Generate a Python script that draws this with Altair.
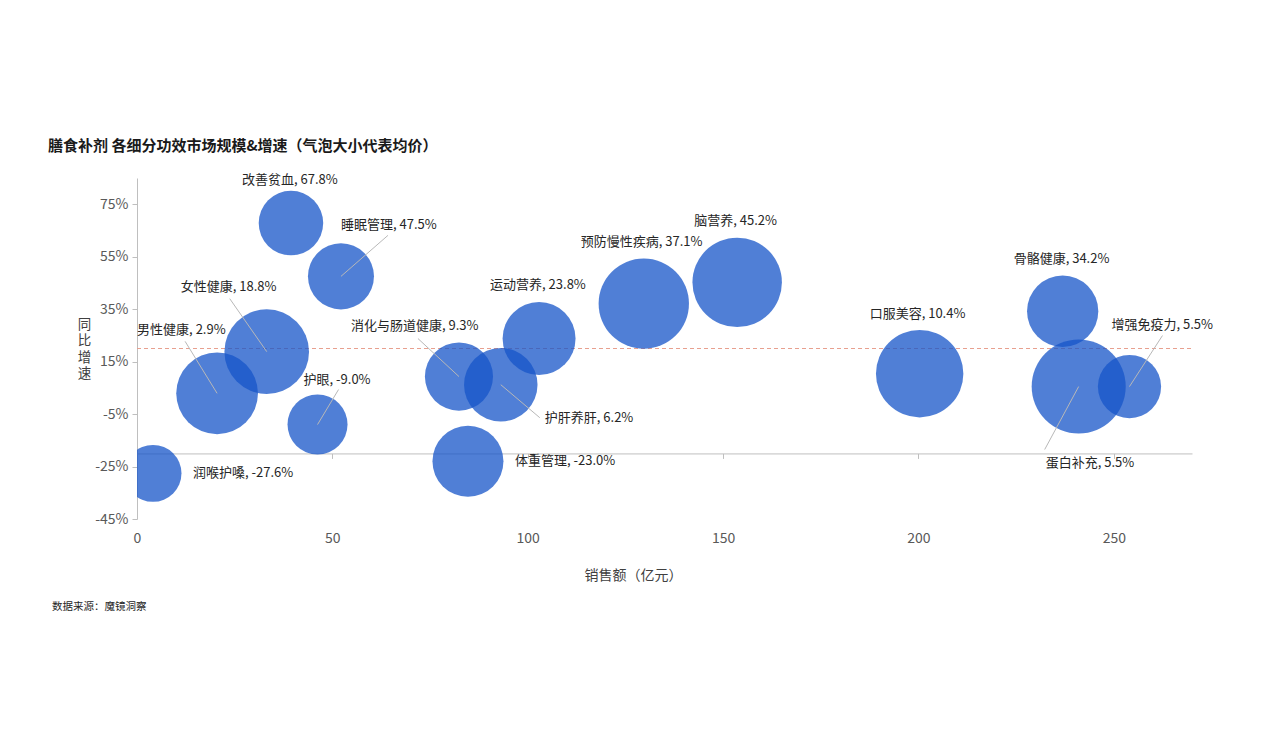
import altair as alt
import pandas as pd

# Segment data: sales (亿元), year-on-year growth (%), average-price index (bubble area)
categories = ["润喉护嗓", "男性健康", "女性健康", "改善贫血", "睡眠管理", "护眼",
              "消化与肠道健康", "护肝养肝", "运动营养", "体重管理", "预防慢性疾病",
              "脑营养", "口服美容", "骨骼健康", "增强免疫力", "蛋白补充"]
sales = [4.1, 20.5, 33.2, 39.4, 52.2, 46.2, 82.4, 93.1, 102.9, 84.7, 129.7,
         153.6, 200.3, 236.9, 254.0, 241.0]
growth = [-27.6, 2.9, 18.8, 67.8, 47.5, -9.0, 9.3, 6.2, 23.8, -23.0, 37.1,
          45.2, 10.4, 34.2, 5.5, 5.5]
avg_price = [81, 167, 179, 104, 109, 90, 116, 135, 133, 126, 204, 200, 191,
             127, 100, 221]
reference_growth = [20]
x_axis_crossing = -20

x_ticks = [0, 50, 100, 150, 200, 250]
y_ticks = [-45, -25, -5, 15, 35, 55, 75]

# Label placement (pixel offsets from bubble centre) and leader-line ends
label_dx = [40, -80, -86, -49, 0, -14, -108, 44, -49, 47, -63, -43, -50, -49, -18, -33]
label_dy = [0, -63, -65, -43, -51, -45, -51, 33, -54, 0, -62, -61, -60, -52, -62, 76]
lead_dx = [None, -32, -37, None, 47, 21, -41, 39, None, None, None, None, None, None, 33, -34]
lead_dy = [None, -52, -53, None, -41, -35, -38, 33, None, None, None, None, None, None, -51, 63]

W, H = 1055, 341
X_DOM, Y_DOM = [0, 270], [-45, 85]
kx = W / (X_DOM[1] - X_DOM[0])
ky = H / (Y_DOM[1] - Y_DOM[0])

FONT = "Noto Sans CJK SC"

df = pd.DataFrame({
    "name": categories, "sales": sales, "growth": growth, "price": avg_price,
})
df["label"] = [f"{n}, {g:.1f}%" for n, g in zip(categories, growth)]
df["lx"] = [s + d / kx for s, d in zip(sales, label_dx)]
df["ly"] = [g - d / ky for g, d in zip(growth, label_dy)]

lead = df.copy()
lead["ex"] = [s + d / kx if d is not None else None for s, d in zip(sales, lead_dx)]
lead["ey"] = [g - d / ky if d is not None else None for g, d in zip(growth, lead_dy)]
lead = lead.dropna(subset=["ex"])

xs = alt.Scale(domain=X_DOM, nice=False, zero=False)
ys = alt.Scale(domain=Y_DOM, nice=False, zero=False)

# The horizontal axis line crosses the y axis at -20%, labels stay at the bottom
cross_offset = (x_axis_crossing - Y_DOM[0]) * ky

x_axis = alt.Axis(
    values=x_ticks, grid=False, offset=-cross_offset, labelFlush=False,
    domainColor="#bfbfbf", tickColor="#bfbfbf", tickSize=5,
    labelPadding=73, labelFontSize=14, labelColor="#595959", labelFont=FONT,
    title="销售额（亿元）", titleFont=FONT, titleFontSize=14, titleFontWeight="normal",
    titleColor="#404040", titleX=496, titleY=122, titleAlign="center",
    titleBaseline="middle",
)
y_axis = alt.Axis(
    values=y_ticks, grid=False, labelExpr="datum.value + '%'", labelFlush=False,
    domainColor="#bfbfbf", tickColor="#bfbfbf", tickSize=5, labelPadding=4,
    labelFontSize=14, labelColor="#595959", labelFont=FONT,
    title=["同", "比", "增", "速"], titleAngle=0, titleFont=FONT, titleFontSize=13.5,
    titleFontWeight="normal", titleColor="#404040", titleX=-53, titleY=139,
    titleAlign="center", titleBaseline="top", titleLineHeight=16.5,
)

ref_line = alt.Chart(pd.DataFrame({"g": reference_growth})).mark_rule(
    color="#e8a08f", strokeDash=[4, 3], strokeWidth=1
).encode(
    y=alt.Y("g:Q", scale=ys, axis=y_axis),
    x=alt.value(0), x2=alt.value(W),
)

bubbles = alt.Chart(df).mark_circle(
    color="#1554c8", opacity=0.75, clip=True
).encode(
    x=alt.X("sales:Q", scale=xs, axis=x_axis),
    y=alt.Y("growth:Q", scale=ys, axis=y_axis),
    size=alt.Size("price:Q", scale=alt.Scale(domain=[0, 250], range=[0, 10000]),
                  legend=None),
)

leaders = alt.Chart(lead).mark_rule(color="#b8b8b8", strokeWidth=1).encode(
    x=alt.X("sales:Q", scale=xs, axis=x_axis),
    y=alt.Y("growth:Q", scale=ys, axis=y_axis),
    x2="ex:Q", y2="ey:Q",
)

labels = alt.Chart(df).mark_text(
    align="left", baseline="middle", font=FONT, fontSize=13, color="#262626"
).encode(
    x=alt.X("lx:Q", scale=xs, axis=x_axis),
    y=alt.Y("ly:Q", scale=ys, axis=y_axis),
    text="label:N",
)

title = alt.Chart(pd.DataFrame({"t": ["膳食补剂 各细分功效市场规模&增速（气泡大小代表均价）"]})).mark_text(
    align="left", baseline="middle", font=FONT, fontSize=15, fontWeight="bold",
    color="#1a1a1a"
).encode(x=alt.value(-89), y=alt.value(-32), text="t:N")

source = alt.Chart(pd.DataFrame({"t": ["数据来源：魔镜洞察"]})).mark_text(
    align="left", baseline="middle", font=FONT, fontSize=10.5, color="#262626"
).encode(x=alt.value(-85), y=alt.value(429), text="t:N")

chart = alt.layer(ref_line, bubbles, leaders, labels, title, source).properties(
    width=W, height=H,
    autosize=alt.AutoSizeParams(type="none"),
    padding={"left": 137, "top": 178, "right": 88, "bottom": 229},
    background="white",
).configure_view(stroke=None)

chart.save("out.html", embed_options={"renderer": "svg", "actions": False})
